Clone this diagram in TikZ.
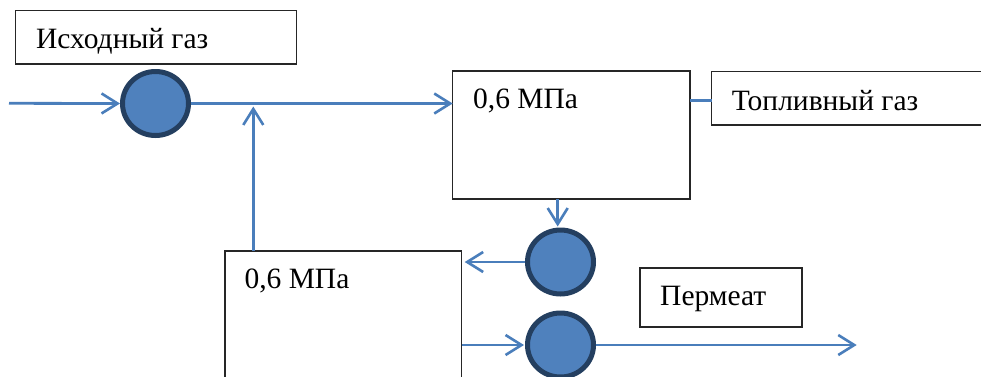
\documentclass[tikz,border=0pt]{standalone}
\usepackage{fontspec}
\setmainfont{Liberation Serif}
\usetikzlibrary{arrows.meta,shapes.geometric}
\definecolor{flowblue}{HTML}{4A7EBB}
\definecolor{pumpfill}{HTML}{4F81BD}
\definecolor{pumpline}{HTML}{243F60}
\tikzset{
  boxnode/.style={draw=black!85, line width=1.3bp, rectangle, anchor=north west, inner sep=0pt, outer sep=0pt},
  pump/.style={ellipse, draw=pumpline, fill=pumpfill, line width=5bp, inner sep=0pt, outer sep=2.5bp},
  flow/.style={draw=flowblue, line width=2.8bp},
  flowarrow/.style={flow, -{Straight Barb[length=16bp, width=20bp, line width=2.6bp]}},
  lbl/.style={anchor=base west, inner sep=0pt, font=\fontsize{29.5bp}{33bp}\selectfont}
}
\begin{document}
\begin{tikzpicture}[x=1bp, y=-1bp]
\path[use as bounding box, clip] (0,0) rectangle (981,376);
\fill[white] (0,0) rectangle (981,376);

% boxes
\node[boxnode, minimum width=281bp, minimum height=53.3bp] (b1) at (15.7,10.7) {};
\node[lbl] (t1) at (36,48) {Исходный газ};

\node[boxnode, minimum width=237.3bp, minimum height=128bp] (b2) at (452.7,71) {};
\node[lbl] (t2) at (473,108) {0,6 МПа};

\node[boxnode, minimum width=290bp, minimum height=53.3bp] (b4) at (711.7,71.7) {};
\node[lbl] (t4) at (731.7,110) {Топливный газ};

\node[boxnode, minimum width=236.7bp, minimum height=160bp] (b3) at (225,251) {};
\node[lbl] (t3) at (244.3,288.3) {0,6 МПа};

\node[boxnode, minimum width=162bp, minimum height=59bp] (b5) at (640,268) {};
\node[lbl] (t5) at (660,305) {Пермеат};

% pumps
\node[pump, minimum width=66bp, minimum height=64bp] (c1) at (155.5,103.5) {};
\node[pump, minimum width=66bp, minimum height=64bp] (c2) at (560.5,262) {};
\node[pump, minimum width=66bp, minimum height=64bp] (c3) at (560.5,345) {};

% free ends
\coordinate (in) at (9,103.3);
\coordinate (j) at (253.3,106.5);
\coordinate (out) at (856.7,345);

% connectors
\draw[flowarrow] (in) -- (c1.west);
\draw[flowarrow] (c1.east) -- (c1.east -| b2.west);
\draw[flowarrow] (j |- b3.north) -- (j);
\draw[flow] (b2.east |- 0,100.7) -- (b4.west |- 0,100.7);
\draw[flowarrow, shorten >=1bp] ([xshift=-2.8bp]c2.north |- b2.south) -- ([xshift=-2.8bp]c2.north);
\draw[flowarrow, shorten >=3bp] (c2.west) -- (c2.west -| b3.east);
\draw[flowarrow, shorten >=1bp] (c3.west -| b3.east) -- (c3.west);
\draw[flowarrow] (c3.east) -- (out);
\end{tikzpicture}
\end{document}
